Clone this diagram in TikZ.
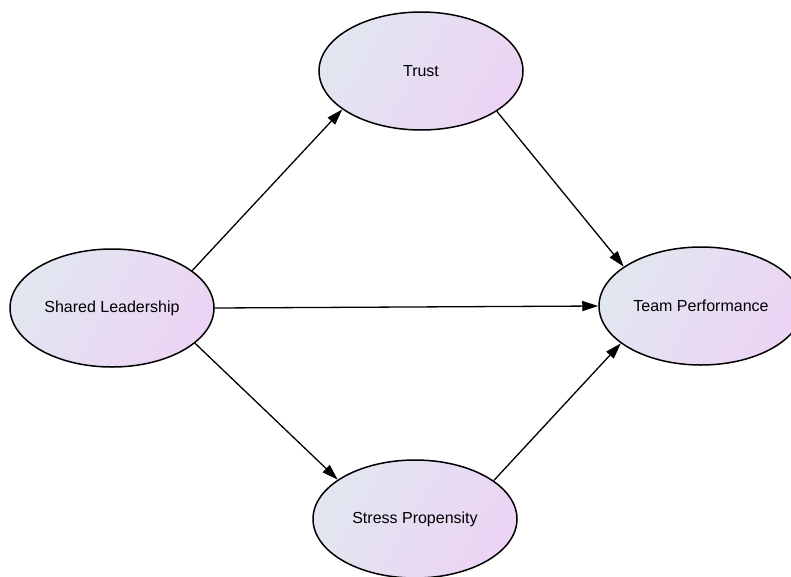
\documentclass[tikz,border=0pt]{standalone}
\usepackage{fontspec}
\setmainfont{Liberation Sans}
\usetikzlibrary{arrows.meta,shapes.geometric}

\definecolor{fillleft}{RGB}{225,230,240}
\definecolor{fillright}{RGB}{236,212,244}

\begin{document}
\begin{tikzpicture}[
    x=1pt, y=-1pt,
    latent/.style={ellipse, draw, line width=1.5pt, minimum width=204pt, minimum height=118pt,
      top color=fillleft, bottom color=fillright, shading angle=60,
      font=\fontsize{16}{19}\selectfont},
    arr/.style={-{Triangle[length=16pt, width=10pt]}, line width=1.3pt}
  ]
    \useasboundingbox (0,0) rectangle (791,576);
    \node[latent] (shared) at (112,308) {Shared Leadership};
    \node[latent] (trust) at (421,71) {Trust};
    \node[latent] (stress) at (415,519) {Stress Propensity};
    \node[latent] (perf) at (701,306) {Team Performance};
    \draw[arr] (shared.25) -- (trust.206);
    \draw[arr] (shared.0) -- (perf.180);
    \draw[arr] (shared.337) -- (stress.153);
    \draw[arr] (trust.332) -- (perf.153);
    \draw[arr] (stress.26) -- (perf.205);
  \end{tikzpicture}
\end{document}
